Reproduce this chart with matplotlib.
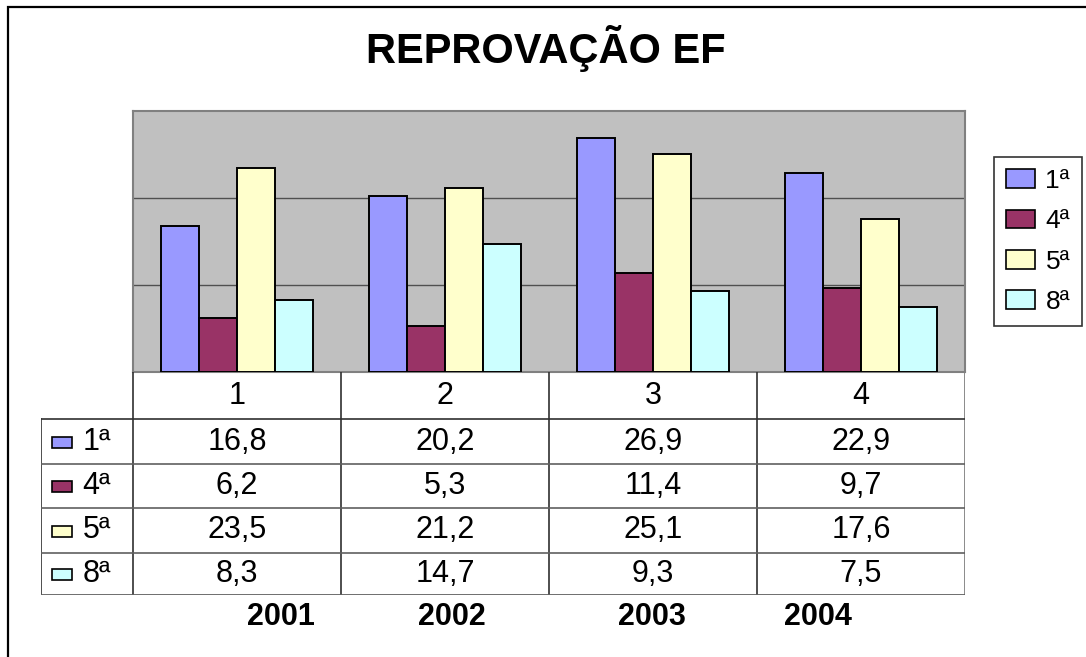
import matplotlib.pyplot as plt
from matplotlib.patches import Patch, Rectangle

plt.rcParams["font.family"] = ["Liberation Sans", "DejaVu Sans"]

W, H = 1086, 657

# data
title = "REPROVAÇÃO EF"
categories = ["1", "2", "3", "4"]
years = ["2001", "2002", "2003", "2004"]
series = ["1ª", "4ª", "5ª", "8ª"]
values = {
    "1ª": [16.8, 20.2, 26.9, 22.9],
    "4ª": [6.2, 5.3, 11.4, 9.7],
    "5ª": [23.5, 21.2, 25.1, 17.6],
    "8ª": [8.3, 14.7, 9.3, 7.5],
}
colors = ["#9999FF", "#993366", "#FFFFCC", "#CCFFFF"]


def fx(x):
    return x / W


def fy(y):
    return 1 - y / H


fig = plt.figure(figsize=(W / 100, H / 100), dpi=100)

# outer chart border (right / bottom run off the picture)
fig.add_artist(Rectangle((fx(8), -0.1), 1.2, fy(7) + 0.1,
                         transform=fig.transFigure, fill=False,
                         edgecolor="black", linewidth=1.6))

fig.text(fx(546), fy(49), title, ha="center", va="center",
         fontsize=30, fontweight="bold")

# plot area
left, right, top, bottom = 133, 965, 111, 372
ax = fig.add_axes([fx(left), fy(bottom), fx(right - left), (bottom - top) / H])
ax.set_facecolor("#C0C0C0")
ax.set_xlim(-0.5, len(categories) - 0.5)
ax.set_ylim(0, 30)
ax.set_yticks([10, 20])
ax.set_xticks([])
ax.tick_params(length=0, labelleft=False)
ax.grid(axis="y", color="#505050", linewidth=1)
ax.set_axisbelow(True)
for s in ax.spines.values():
    s.set_color("#808080")
    s.set_linewidth(1.5)

n = len(series)
w = 1 / (n + 1.5)
for i, (name, c) in enumerate(zip(series, colors)):
    xs = [k + (i - (n - 1) / 2) * w for k in range(len(categories))]
    ax.bar(xs, values[name], width=w, color=c, edgecolor="black",
           linewidth=1.4, zorder=3)

# data table
tleft, tbottom = 41, 595
lab_w = (left - tleft) / (right - left) * len(categories)
tx = fig.add_axes([fx(tleft), fy(tbottom), fx(right - tleft),
                   (tbottom - bottom) / H])
tx.set_xlim(-0.5 - lab_w, len(categories) - 0.5)
tx.set_ylim(tbottom - bottom, 0)
tx.axis("off")

rows = [0, 47, 92, 136, 181, 223]
x0 = -0.5 - lab_w
x_end = len(categories) - 0.5
lc = "#303030"
# vertical lines
for k in range(len(categories)):
    tx.plot([k - 0.5, k - 0.5], [rows[0], rows[-1]], color=lc, lw=1.2)
tx.plot([x_end, x_end], [rows[0], rows[-1]], color="#808080", lw=2)
tx.plot([x0, x0], [rows[1], rows[-1]], color=lc, lw=1.2)
# horizontal lines
tx.plot([x0, x_end], [rows[1], rows[1]], color=lc, lw=1.2)
for r in rows[2:-1]:
    tx.plot([x0, x_end], [r, r], color="#606060", lw=1.2)
tx.plot([x0, x_end], [rows[-1], rows[-1]], color="#606060", lw=2)

fs = 22
for k, cat in enumerate(categories):
    tx.text(k, (rows[0] + rows[1]) / 2, cat, ha="center", va="center",
            fontsize=fs)
for j, (name, c) in enumerate(zip(series, colors)):
    yc = (rows[j + 1] + rows[j + 2]) / 2
    tx.add_patch(Rectangle((x0 + 0.055, yc - 5), 0.095, 11, facecolor=c,
                           edgecolor="black", linewidth=1.2))
    tx.text(x0 + 0.2, yc, name, ha="left", va="center", fontsize=fs)
    for k, v in enumerate(values[name]):
        tx.text(k, yc, f"{v:.1f}".replace(".", ","), ha="center",
                va="center", fontsize=fs)

# year labels under the table
year_x = [281, 452, 652, 818]
for xp, yr in zip(year_x, years):
    fig.text(fx(xp), fy(617), yr, ha="center", va="center",
             fontsize=22, fontweight="bold")

# legend
handles = [Patch(facecolor=c, edgecolor="black", linewidth=1.2, label=s)
           for s, c in zip(series, colors)]
leg = fig.legend(handles=handles, loc="upper left",
                 bbox_to_anchor=(fx(994), fy(157)), fontsize=19,
                 frameon=True, fancybox=False, edgecolor="black",
                 handlelength=1.1, handleheight=0.7, handletextpad=0.4,
                 labelspacing=0.62, borderpad=0.45, borderaxespad=0)
leg.get_frame().set_linewidth(1.2)

fig.savefig("out.png", dpi=100)
